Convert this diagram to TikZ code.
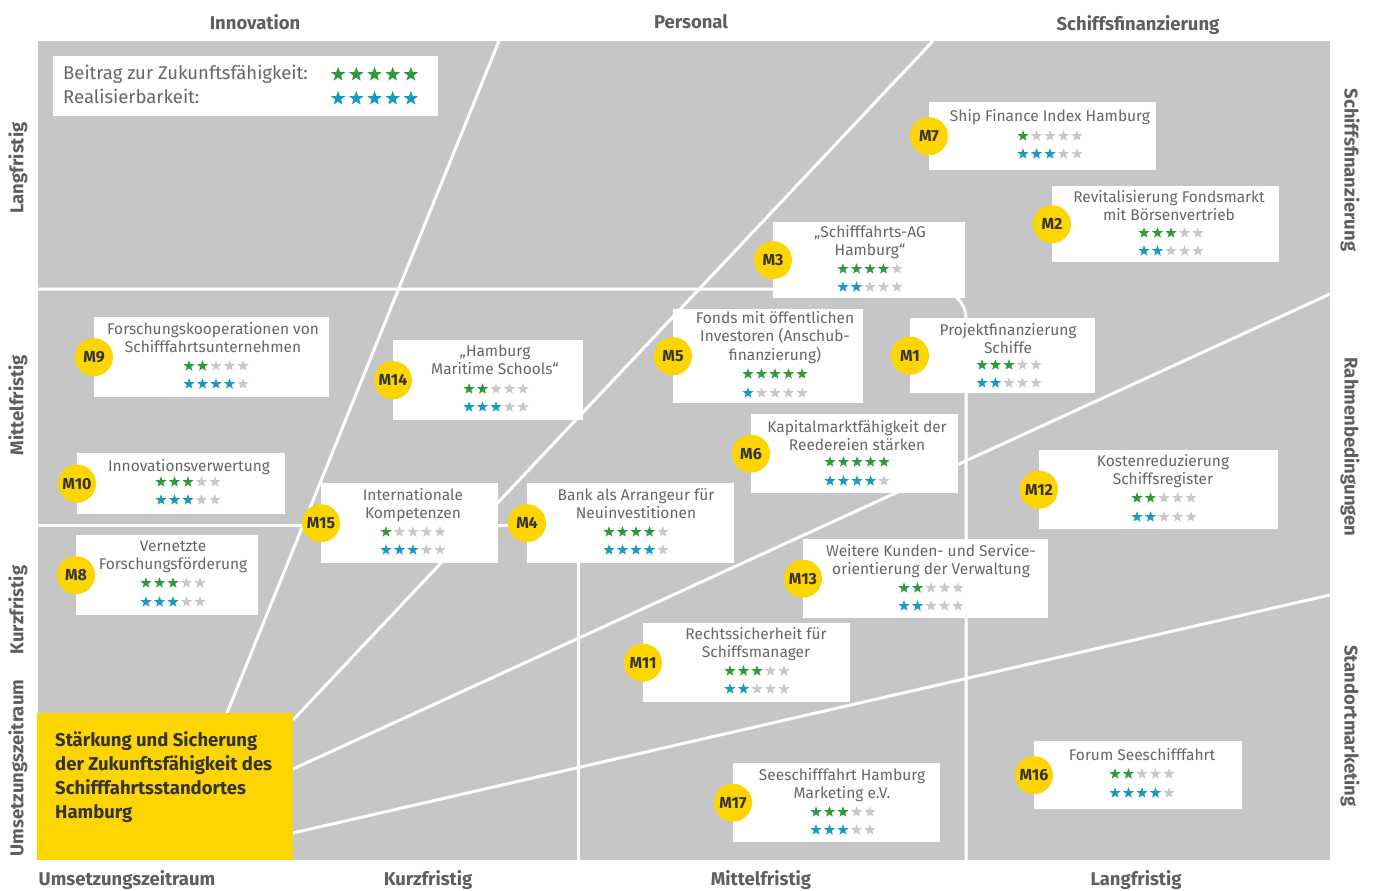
\documentclass[tikz,border=0pt]{standalone}
\usepackage{fontspec}
\setmainfont{Fira Sans}
\usetikzlibrary{shapes.geometric}
\definecolor{bggray}{HTML}{C6C6C6}
\definecolor{myyellow}{HTML}{FFD500}
\definecolor{headgray}{HTML}{5E5E5E}
\definecolor{boxtext}{HTML}{666666}
\definecolor{circtext}{HTML}{333333}
\definecolor{stargreen}{HTML}{2E9A3A}
\definecolor{starblue}{HTML}{1A9AC0}
\definecolor{stargray}{HTML}{C8C8C8}
\tikzset{
  wbox/.style={fill=white, draw=none, inner sep=0, anchor=north west},
  mcirc/.style={circle, fill=myyellow, minimum size=38pt, inner sep=0, font=\fontsize{16}{18}\selectfont\bfseries, text=circtext},
  btext/.style={align=center, anchor=base, inner sep=0, font=\fontsize{15.5}{18.5}\selectfont, text=boxtext},
  starshape/.style={star, star points=5, star point ratio=2.4, minimum size=11.5pt, inner sep=0, draw=none},
  bigstar/.style={starshape, minimum size=15pt},
  sepline/.style={draw=white, line width=3pt},
  head/.style={font=\fontsize{18.5}{20}\selectfont\bfseries, text=headgray, inner sep=0},
  legtext/.style={anchor=base west, inner sep=0, text=boxtext, font=\fontsize{18.5}{20}\selectfont},
}
\newcommand{\starrow}[7]{%
  \foreach \i in {1,...,5}{%
    \ifnum\i>#4\relax\def\sc{stargray}\else\def\sc{#5}\fi
    \node[#7, fill=\sc, name=#1-\i] at ({#2+(\i-3)*#6},#3) {};
  }}
\begin{document}
\begin{tikzpicture}[x=1pt,y=-1pt]
\useasboundingbox (0,0) rectangle (1373,891);
% background field
\fill[bggray] (38,41) rectangle (1330,860);
% separator lines
\coordinate (l1a) at (227,713); \coordinate (l1b) at (499,41);
\coordinate (l2a) at (293,720); \coordinate (l2b) at (933,41);
\coordinate (l3a) at (293,769); \coordinate (l3b) at (1330,294);
\coordinate (l4a) at (293,833); \coordinate (l4b) at (1330,595);
\coordinate (h1a) at (38,289); \coordinate (h1c) at (966,289); \coordinate (h1b) at (966,860);
\coordinate (h2a) at (38,525); \coordinate (h2b) at (527,525);
\coordinate (v1a) at (578,563); \coordinate (v1b) at (578,860);
\draw[sepline] (l1a) -- (l1b);
\draw[sepline] (l2a) -- (l2b);
\draw[sepline] (l3a) -- (l3b);
\draw[sepline] (l4a) -- (l4b);
\draw[sepline, rounded corners=30pt] (h1a) -- (h1c) -- (h1b);
\draw[sepline] (h2a) -- (h2b);
\draw[sepline] (v1a) -- (v1b);
% core box
\node[fill=myyellow, anchor=north west, inner sep=0, minimum width=256pt, minimum height=147pt] (core) at (37,713) {};
\node[anchor=base west, align=left, inner sep=0, text=circtext, font=\fontsize{18.5}{24}\selectfont\bfseries] (coretext) at (55,818) {Stärkung und Sicherung\\der Zukunftsfähigkeit des\\Schifffahrtsstandortes\\Hamburg};
% headings
\node[head] (hInno) at (255,22) {Innovation};
\node[head] (hPers) at (691,22) {Personal};
\node[head] (hSchiff) at (1138,25) {Schiffsfinanzierung};
\node[head, rotate=90] (lLang) at (18,168) {Langfristig};
\node[head, rotate=90] (lMittel) at (18,405) {Mittelfristig};
\node[head, rotate=90] (lKurz) at (18,610) {Kurzfristig};
\node[head, rotate=90] (lUms) at (18,768) {Umsetzungszeitraum};
\node[head, rotate=-90] (rSchiff) at (1350,170) {Schiffsfinanzierung};
\node[head, rotate=-90] (rRahmen) at (1350,447) {Rahmenbedingungen};
\node[head, rotate=-90] (rStand) at (1350,726) {Standortmarketing};
\node[head] (bUms) at (127,880) {Umsetzungszeitraum};
\node[head] (bKurz) at (428,880) {Kurzfristig};
\node[head] (bMittel) at (761,880) {Mittelfristig};
\node[head] (bLang) at (1136,880) {Langfristig};
% legend
\node[wbox, minimum width=385pt, minimum height=60pt] (legend) at (53,56) {};
\node[legtext] (leg1) at (63,79) {Beitrag zur Zukunftsfähigkeit:};
\node[legtext] (leg2) at (63,103) {Realisierbarkeit:};
\starrow{lg}{374.5}{74.5}{5}{stargreen}{18.2}{bigstar}
\starrow{lb}{374.5}{98.5}{5}{starblue}{18.2}{bigstar}
% M7
\node[wbox, minimum width=227pt, minimum height=68pt] (b7) at (929,102) {};
\node[mcirc] (m7) at (b7.west) {M7};
\node[btext] (t7) at (1050,121) {Ship Finance Index Hamburg};
\starrow{g7}{1050}{136}{1}{stargreen}{13.5}{starshape}
\starrow{r7}{1050}{154}{3}{starblue}{13.5}{starshape}
% M2
\node[wbox, minimum width=227pt, minimum height=76pt] (b2) at (1052,186) {};
\node[mcirc] (m2) at (b2.west) {M2};
\node[btext] (t2) at (1169,220.5) {Revitalisierung Fondsmarkt\\mit Börsenvertrieb};
\starrow{g2}{1171}{233}{3}{stargreen}{13.5}{starshape}
\starrow{r2}{1171}{251}{2}{starblue}{13.5}{starshape}
% M3
\node[wbox, minimum width=192pt, minimum height=76pt] (b3) at (773,222) {};
\node[mcirc] (m3) at (b3.west) {M3};
\node[btext] (t3) at (870,255.5) {„Schifffahrts-AG\\Hamburg“};
\starrow{g3}{870}{269}{4}{stargreen}{13.5}{starshape}
\starrow{r3}{870}{287}{2}{starblue}{13.5}{starshape}
% M1
\node[wbox, minimum width=185pt, minimum height=75pt] (b1) at (910,318) {};
\node[mcirc] (m1) at (b1.west) {M1};
\node[btext] (t1) at (1008,353.5) {Projektfinanzierung\\Schiffe};
\starrow{g1}{1009}{365}{3}{stargreen}{13.5}{starshape}
\starrow{r1}{1009}{383}{2}{starblue}{13.5}{starshape}
% M5
\node[wbox, minimum width=190pt, minimum height=94pt] (b5) at (673,309) {};
\node[mcirc] (m5) at (b5.west) {M5};
\node[btext] (t5) at (775,360) {Fonds mit öffentlichen\\Investoren (Anschub-\\finanzierung)};
\starrow{g5}{775}{374}{5}{stargreen}{13.5}{starshape}
\starrow{r5}{775}{393}{1}{starblue}{13.5}{starshape}
% M6
\node[wbox, minimum width=207pt, minimum height=79pt] (b6) at (751,414) {};
\node[mcirc] (m6) at (b6.west) {M6};
\node[btext] (t6) at (857,450.5) {Kapitalmarktfähigkeit der\\Reedereien stärken};
\starrow{g6}{857}{462}{5}{stargreen}{13.5}{starshape}
\starrow{r6}{857}{481}{4}{starblue}{13.5}{starshape}
% M12
\node[wbox, minimum width=239pt, minimum height=79pt] (b12) at (1039,450) {};
\node[mcirc] (m12) at (b12.west) {M12};
\node[btext] (t12) at (1163,484.5) {Kostenreduzierung\\Schiffsregister};
\starrow{g12}{1164}{498}{2}{stargreen}{13.5}{starshape}
\starrow{r12}{1164}{517}{2}{starblue}{13.5}{starshape}
% M13
\node[wbox, minimum width=245pt, minimum height=79pt] (b13) at (803,539) {};
\node[mcirc] (m13) at (b13.west) {M13};
\node[btext] (t13) at (931,574.5) {Weitere Kunden- und Service-\\orientierung der Verwaltung};
\starrow{g13}{931}{588}{2}{stargreen}{13.5}{starshape}
\starrow{r13}{931}{606}{2}{starblue}{13.5}{starshape}
% M11
\node[wbox, minimum width=207pt, minimum height=79pt] (b11) at (643,623) {};
\node[mcirc] (m11) at (b11.west) {M11};
\node[btext] (t11) at (756,657.5) {Rechtssicherheit für\\Schiffsmanager};
\starrow{g11}{757}{671}{3}{stargreen}{13.5}{starshape}
\starrow{r11}{757}{689}{2}{starblue}{13.5}{starshape}
% M17
\node[wbox, minimum width=207pt, minimum height=79pt] (b17) at (733,763) {};
\node[mcirc] (m17) at (b17.west) {M17};
\node[btext] (t17) at (842,798.5) {Seeschifffahrt Hamburg\\Marketing e.V.};
\starrow{g17}{843}{812}{3}{stargreen}{13.5}{starshape}
\starrow{r17}{843}{830}{3}{starblue}{13.5}{starshape}
% M16
\node[wbox, minimum width=208pt, minimum height=68pt] (b16) at (1034,741) {};
\node[mcirc] (m16) at (b16.west) {M16};
\node[btext] (t16) at (1142,760) {Forum Seeschifffahrt};
\starrow{g16}{1142}{774}{2}{stargreen}{13.5}{starshape}
\starrow{r16}{1142}{793}{4}{starblue}{13.5}{starshape}
% M9
\node[wbox, minimum width=235pt, minimum height=80pt] (b9) at (94,317) {};
\node[mcirc] (m9) at (b9.west) {M9};
\node[btext] (t9) at (213,352.5) {Forschungskooperationen von\\Schifffahrtsunternehmen};
\starrow{g9}{216}{366}{2}{stargreen}{13.5}{starshape}
\starrow{r9}{216}{384}{4}{starblue}{13.5}{starshape}
% M10
\node[wbox, minimum width=208pt, minimum height=61pt] (b10) at (77,453) {};
\node[mcirc] (m10) at (b10.west) {M10};
\node[btext] (t10) at (189,471) {Innovationsverwertung};
\starrow{g10}{188}{482}{3}{stargreen}{13.5}{starshape}
\starrow{r10}{188}{500}{3}{starblue}{13.5}{starshape}
% M8
\node[wbox, minimum width=182pt, minimum height=80pt] (b8) at (76,535) {};
\node[mcirc] (m8) at (b8.west) {M8};
\node[btext] (t8) at (173,569.5) {Vernetzte\\Forschungsförderung};
\starrow{g8}{173}{583}{3}{stargreen}{13.5}{starshape}
\starrow{r8}{173}{602}{3}{starblue}{13.5}{starshape}
% M14
\node[wbox, minimum width=190pt, minimum height=80pt] (b14) at (393,340) {};
\node[mcirc] (m14) at (b14.west) {M14};
\node[btext] (t14) at (495,374.5) {„Hamburg\\Maritime Schools“};
\starrow{g14}{496}{389}{2}{stargreen}{13.5}{starshape}
\starrow{r14}{496}{407}{3}{starblue}{13.5}{starshape}
% M15
\node[wbox, minimum width=177pt, minimum height=80pt] (b15) at (321,483) {};
\node[mcirc] (m15) at (b15.west) {M15};
\node[btext] (t15) at (413,518.5) {Internationale\\Kompetenzen};
\starrow{g15}{413}{532}{1}{stargreen}{13.5}{starshape}
\starrow{r15}{413}{550}{3}{starblue}{13.5}{starshape}
% M4
\node[wbox, minimum width=207pt, minimum height=80pt] (b4) at (527,483) {};
\node[mcirc] (m4) at (b4.west) {M4};
\node[btext] (t4) at (636,518.5) {Bank als Arrangeur für\\Neuinvestitionen};
\starrow{g4}{636}{532}{4}{stargreen}{13.5}{starshape}
\starrow{r4}{636}{550}{4}{starblue}{13.5}{starshape}
\end{tikzpicture}
\end{document}
